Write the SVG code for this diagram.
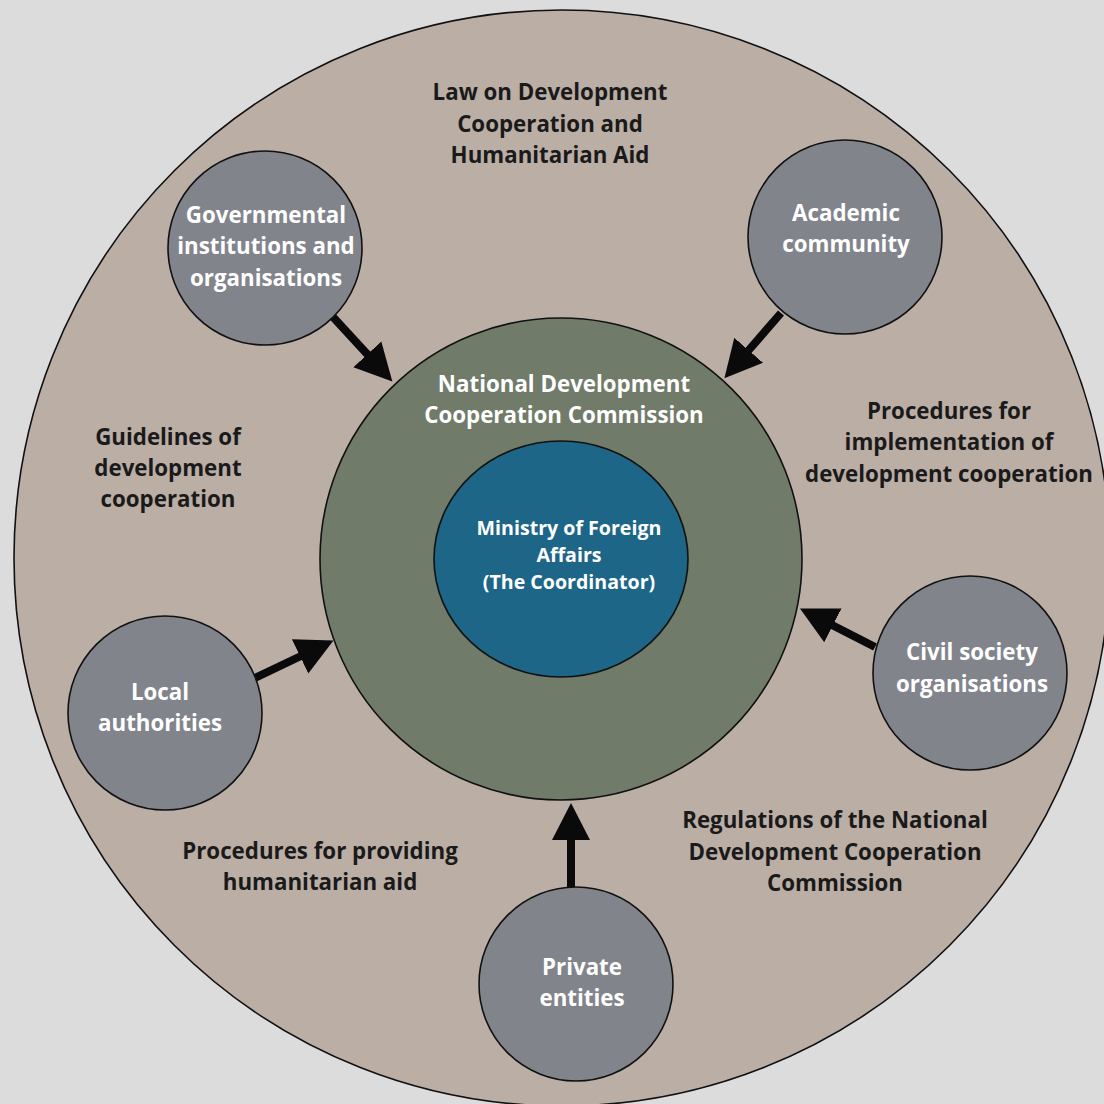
<svg xmlns="http://www.w3.org/2000/svg" width="1104" height="1104" viewBox="0 0 1104 1104">
<style>
.node{stroke:#111;stroke-width:1.6}
.sat{fill:#82848c}
.lbl{font-family:"Open Sans","Liberation Sans",sans-serif;font-weight:700;font-size:22.3px;text-anchor:middle}
.w{fill:#ffffff}
.d{fill:#1a1a1a}
.sm{font-size:19.6px}
.arr{stroke:#0a0a0a;stroke-width:8;fill:none;marker-end:url(#ah)}
</style>
<defs>
<marker id="ah" markerUnits="userSpaceOnUse" markerWidth="38" markerHeight="40" viewBox="0 0 38 40" refX="1" refY="20" orient="auto">
<path d="M0,1 L37,20 L0,39 Z" fill="#0a0a0a"/>
</marker>
</defs>
<rect width="1104" height="1104" fill="#dcdcdc"/>
<g id="outer">
<circle cx="562" cy="558" r="548" fill="#bbaea5" stroke="#111" stroke-width="1.6"/>
<text class="lbl d" x="550" y="100">Law on Development</text>
<text class="lbl d" x="550" y="132">Cooperation and</text>
<text class="lbl d" x="550" y="163">Humanitarian Aid</text>
<text class="lbl d" x="168" y="445">Guidelines of</text>
<text class="lbl d" x="168" y="476">development</text>
<text class="lbl d" x="168" y="507">cooperation</text>
<text class="lbl d" x="949" y="419">Procedures for</text>
<text class="lbl d" x="949" y="450">implementation of</text>
<text class="lbl d" x="949" y="482">development cooperation</text>
<text class="lbl d" x="835" y="828">Regulations of the National</text>
<text class="lbl d" x="835" y="860">Development Cooperation</text>
<text class="lbl d" x="835" y="891">Commission</text>
<text class="lbl d" x="320" y="859">Procedures for providing</text>
<text class="lbl d" x="320" y="890">humanitarian aid</text>
</g>
<g id="ndcc">
<circle class="node" cx="561" cy="559" r="241" fill="#717b69"/>
<text class="lbl w" x="564" y="392">National Development</text>
<text class="lbl w" x="564" y="423">Cooperation Commission</text>
</g>
<g id="mfa">
<ellipse class="node" cx="561" cy="559" rx="127" ry="118" fill="#1d6687"/>
<text class="lbl w sm" x="569" y="535">Ministry of Foreign</text>
<text class="lbl w sm" x="569" y="562">Affairs</text>
<text class="lbl w sm" x="569" y="589">(The Coordinator)</text>
</g>
<g id="connectors">
<line class="arr" x1="333" y1="317" x2="368" y2="355"/>
<line class="arr" x1="781" y1="313" x2="748" y2="351"/>
<line class="arr" x1="255" y1="678" x2="301" y2="656"/>
<line class="arr" x1="875" y1="647" x2="832" y2="625"/>
<line class="arr" x1="571" y1="888" x2="571" y2="839"/>
</g>
<g id="governmental">
<circle class="node sat" cx="265" cy="248" r="97"/>
<text class="lbl w" x="266" y="223">Governmental</text>
<text class="lbl w" x="266" y="254">institutions and</text>
<text class="lbl w" x="266" y="286">organisations</text>
</g>
<g id="academic">
<circle class="node sat" cx="845" cy="237" r="97"/>
<text class="lbl w" x="846" y="221">Academic</text>
<text class="lbl w" x="846" y="252">community</text>
</g>
<g id="local">
<circle class="node sat" cx="165" cy="713" r="97"/>
<text class="lbl w" x="160" y="700">Local</text>
<text class="lbl w" x="160" y="731">authorities</text>
</g>
<g id="civil">
<circle class="node sat" cx="970" cy="673" r="97"/>
<text class="lbl w" x="972" y="660">Civil society</text>
<text class="lbl w" x="972" y="692">organisations</text>
</g>
<g id="private">
<circle class="node sat" cx="576" cy="984" r="97"/>
<text class="lbl w" x="582" y="975">Private</text>
<text class="lbl w" x="582" y="1006">entities</text>
</g>
</svg>
